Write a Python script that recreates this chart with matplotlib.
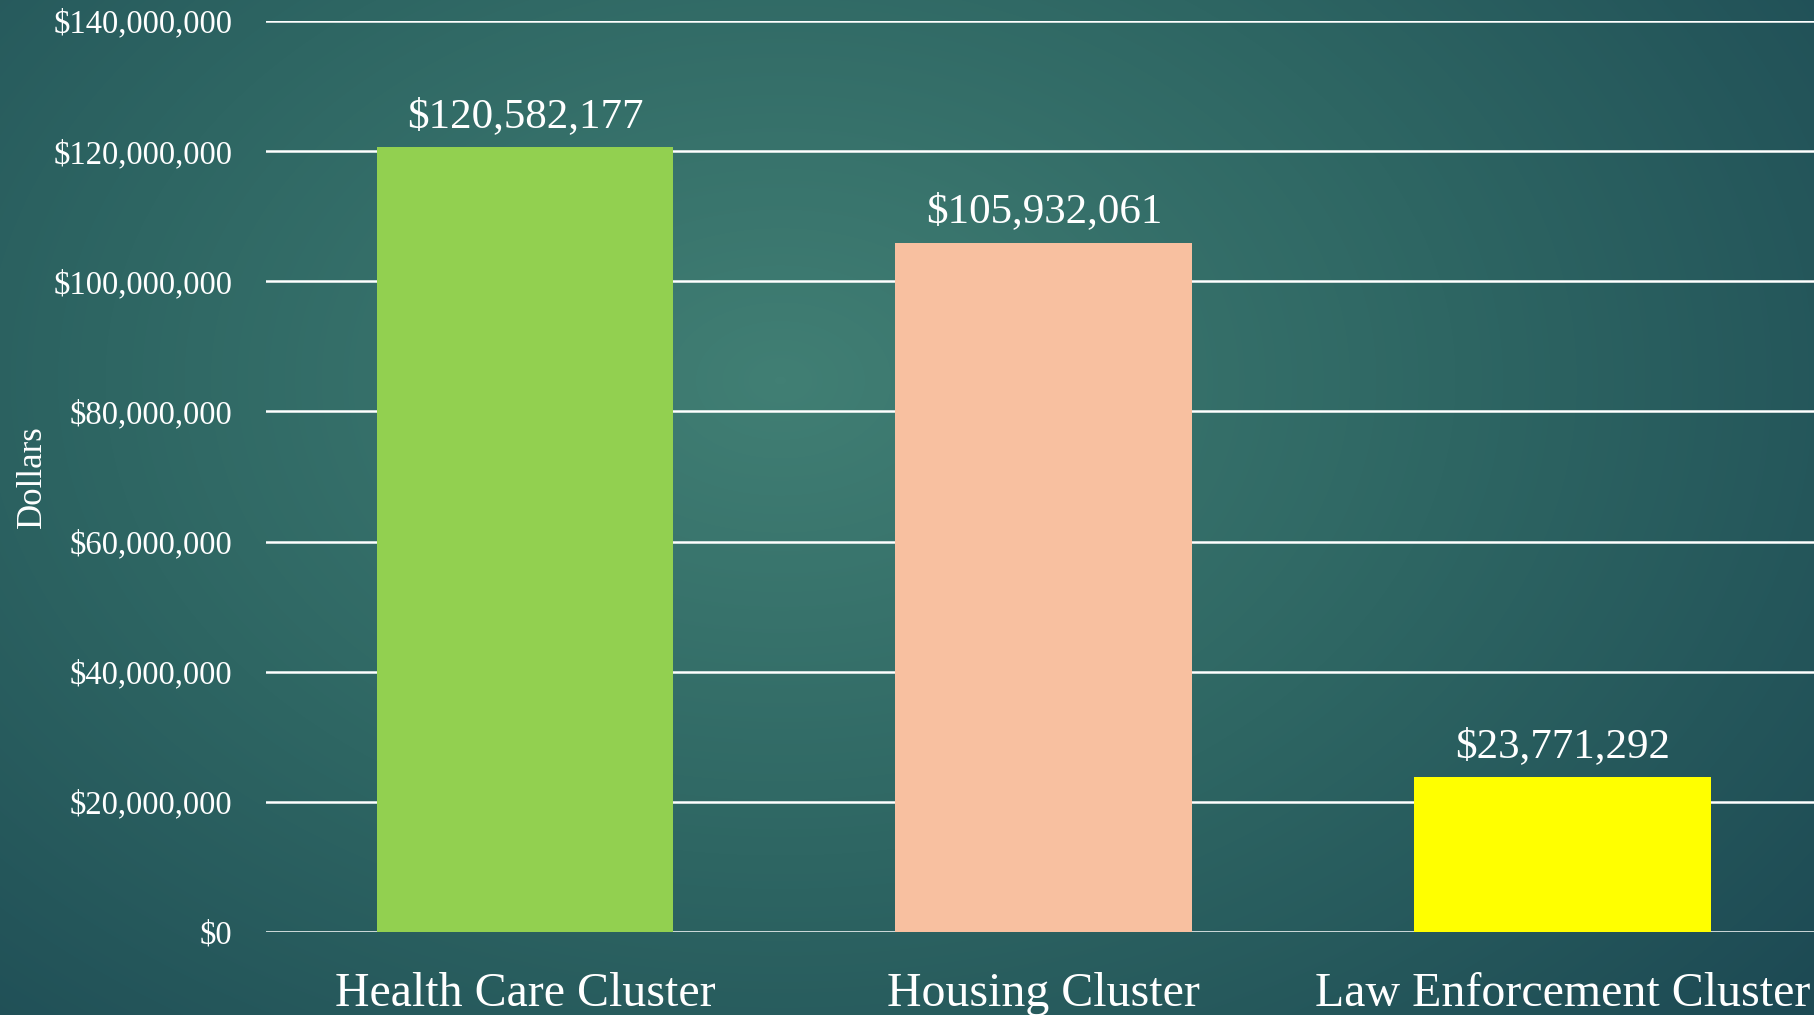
import numpy as np
import matplotlib
matplotlib.use("Agg")
import matplotlib.pyplot as plt
from matplotlib.colors import LinearSegmentedColormap

categories = ["Health Care Cluster", "Housing Cluster", "Law Enforcement Cluster"]
values = [120582177, 105932061, 23771292]
bar_colors = ["#92D050", "#F8C0A0", "#FFFF00"]
yticks = [0, 20000000, 40000000, 60000000, 80000000, 100000000, 120000000, 140000000]
ylabel = "Dollars"

plt.rcParams['font.family'] = ['Liberation Serif', 'DejaVu Serif']

W, H = 1815, 1015
fig = plt.figure(figsize=(W / 100, H / 100), dpi=100)

# background radial gradient
bg = fig.add_axes([0, 0, 1, 1])
yy, xx = np.mgrid[0:H, 0:W]
cx, cy = 780, 380
r = np.sqrt(((xx - cx) / 1350.0) ** 2 + ((yy - cy) / 950.0) ** 2)
r = np.clip(r, 0, 1)
cmap = LinearSegmentedColormap.from_list("bg", ["#417F74", "#2E6663", "#1D4A54"])
bg.imshow(r, cmap=cmap, aspect="auto", extent=[0, W, H, 0], vmin=0, vmax=1)
bg.set_axis_off()

ax = fig.add_axes([266 / W, 83 / H, 1 - 266 / W, (932 - 21) / H])
ax.patch.set_alpha(0)
x = np.arange(len(categories))
bars = ax.bar(x, values, width=0.572, color=bar_colors, zorder=3)
ax.set_xlim(-0.499, 2.486)
ax.set_ylim(0, 140000000)
ax.set_yticks(yticks)
ax.set_yticklabels(["${:,}".format(v) for v in yticks], color="white", fontsize=23.5)
ax.set_xticks(x)
ax.set_xticklabels(categories, color="white", fontsize=34.5)
ax.tick_params(axis="y", length=0, pad=24)
ax.tick_params(axis="x", length=0, pad=29)
ax.yaxis.grid(True, color="white", linewidth=1.8, zorder=1)
ax.set_axisbelow(True)
for s in ax.spines.values():
    s.set_visible(False)
ax.set_ylabel(ylabel, color="white", fontsize=25, labelpad=3.5)

for b, v in zip(bars, values):
    ax.annotate("${:,}".format(v), (b.get_x() + b.get_width() / 2, v),
                xytext=(0, 8), textcoords="offset points",
                ha="center", va="bottom", color="white", fontsize=31)

fig.savefig("out.png", dpi=100)
